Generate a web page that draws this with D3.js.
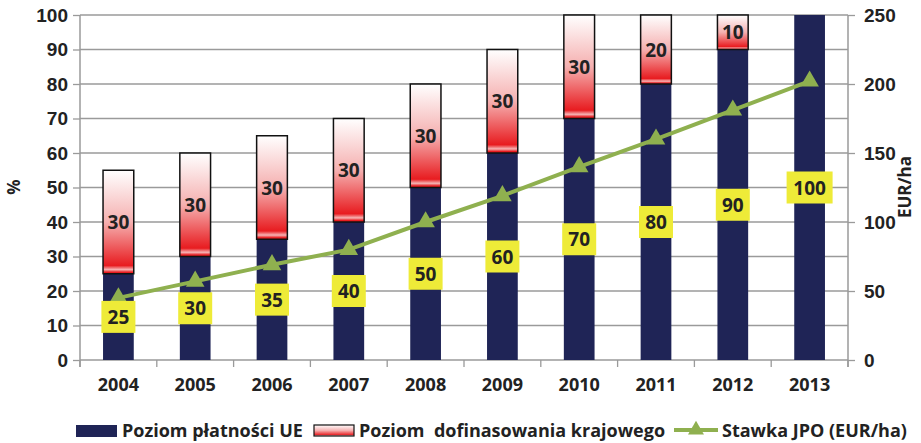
<!DOCTYPE html>
<html>
<head>
<meta charset="utf-8">
<script src="https://cdn.jsdelivr.net/npm/d3@7"></script>
<style>
  html, body { margin: 0; padding: 0; background: #fff; }
  svg { display: block; font-family: "Open Sans", Lato, sans-serif; font-weight: bold; }
</style>
</head>
<body>
<svg id="chart" width="921" height="443"></svg>
<script>
var years = ['2004','2005','2006','2007','2008','2009','2010','2011','2012','2013'];
var euLevel = [25, 30, 35, 40, 50, 60, 70, 80, 90, 100];
var nationalTopUp = [30, 30, 30, 30, 30, 30, 30, 20, 10, 0];
var jpoRate = [45, 57, 69, 80, 100, 119, 140, 160, 181, 202];
var leftTicks = [0, 10, 20, 30, 40, 50, 60, 70, 80, 90, 100];
var rightTicks = [0, 50, 100, 150, 200, 250];

(function () {

var navy = '#1f2456'
var green = '#8fb04f'
var yellow = '#eeeb38'
var grid = '#9a9a9a'
var ink = '#222'

var svg = d3.select('#chart')
var plotLeft = 80, plotRight = 848, plotTop = 15, plotBottom = 360

var x = d3.scaleBand().domain(years).range([plotLeft, plotRight]).paddingInner(0.6).paddingOuter(0.3)
var y = d3.scaleLinear().domain([0, 100]).range([plotBottom, plotTop])
var y2 = d3.scaleLinear().domain([0, 250]).range([plotBottom, plotTop])

// gradient for the national top-up bars (white top, red bottom, pale rim at the foot)
var defs = svg.append('defs')
var grad = defs.append('linearGradient').attr('id', 'redgrad')
    .attr('x1', 0).attr('y1', 0).attr('x2', 0).attr('y2', 1)
var stops = [[0, '#ffffff'], [0.5, '#f5b0b0'], [0.92, '#e81c20'], [0.96, '#f6b4b4'], [0.985, '#e81c20'], [1, '#e81c20']]
stops.forEach(function (s) {
    grad.append('stop').attr('offset', s[0]).attr('stop-color', s[1])
})

// grid
svg.append('g').selectAll('line').data(leftTicks.slice(1)).join('line')
    .attr('x1', plotLeft).attr('x2', plotRight)
    .attr('y1', function (d) { return y(d) }).attr('y2', function (d) { return y(d) })
    .attr('stroke', grid).attr('stroke-width', 1.3)

// left axis
var ax = svg.append('g').attr('transform', 'translate(' + plotLeft + ',0)')
    .call(d3.axisLeft(y).tickValues(leftTicks).tickSize(7).tickPadding(5))
ax.select('.domain').remove()
ax.selectAll('line').attr('stroke', grid).attr('stroke-width', 1.3)
ax.selectAll('text').attr('font-size', 19).attr('fill', ink).attr('font-family', null)
svg.append('line').attr('x1', plotLeft).attr('x2', plotLeft).attr('y1', plotTop).attr('y2', plotBottom + 7)
    .attr('stroke', grid).attr('stroke-width', 1.5)

// right axis
var ax2 = svg.append('g').attr('transform', 'translate(' + plotRight + ',0)')
    .call(d3.axisRight(y2).tickValues(rightTicks).tickSize(7).tickPadding(9))
ax2.select('.domain').remove()
ax2.selectAll('line').attr('stroke', grid).attr('stroke-width', 1.3)
ax2.selectAll('text').attr('font-size', 19).attr('fill', ink).attr('font-family', null)
svg.append('line').attr('x1', plotRight).attr('x2', plotRight).attr('y1', plotTop).attr('y2', plotBottom + 7)
    .attr('stroke', grid).attr('stroke-width', 1.5)

// bottom axis
svg.append('line').attr('x1', plotLeft).attr('x2', plotRight).attr('y1', plotBottom).attr('y2', plotBottom)
    .attr('stroke', grid).attr('stroke-width', 1.5)
svg.append('g').selectAll('line').data(d3.range(years.length + 1)).join('line')
    .attr('x1', function (i) { return plotLeft + i * x.step() })
    .attr('x2', function (i) { return plotLeft + i * x.step() })
    .attr('y1', plotBottom).attr('y2', plotBottom + 7)
    .attr('stroke', grid).attr('stroke-width', 1.3)
var xc = function (d) { return x(d) + x.bandwidth() / 2 }
svg.append('g').selectAll('text').data(years).join('text')
    .attr('x', xc).attr('y', 391).attr('text-anchor', 'middle')
    .attr('font-size', 18).attr('fill', ink).text(function (d) { return d })

// axis titles
svg.append('text').attr('transform', 'translate(20,187) rotate(-90)')
    .attr('text-anchor', 'middle').attr('font-size', 17).attr('fill', ink).text('%')
svg.append('text').attr('transform', 'translate(911,187) rotate(-90)')
    .attr('text-anchor', 'middle').attr('font-size', 17).attr('fill', ink).text('EUR/ha')

// bars
var bars = svg.append('g')
bars.selectAll('rect.eu').data(years).join('rect').attr('class', 'eu')
    .attr('x', function (d) { return x(d) })
    .attr('width', x.bandwidth())
    .attr('y', function (d, i) { return y(euLevel[i]) })
    .attr('height', function (d, i) { return plotBottom - y(euLevel[i]) })
    .attr('fill', navy)
var withTopUp = years.filter(function (d, i) { return nationalTopUp[i] > 0 })
bars.selectAll('rect.nat').data(withTopUp).join('rect')
    .attr('class', 'nat')
    .attr('x', function (d) { return x(d) })
    .attr('width', x.bandwidth())
    .attr('y', function (d) { var i = years.indexOf(d); return y(euLevel[i] + nationalTopUp[i]) })
    .attr('height', function (d) { var i = years.indexOf(d); return y(euLevel[i]) - y(euLevel[i] + nationalTopUp[i]) })
    .attr('fill', 'url(#redgrad)').attr('stroke', '#111').attr('stroke-width', 1.5)

// national labels
svg.append('g').selectAll('text').data(withTopUp).join('text')
    .attr('x', xc)
    .attr('y', function (d) { var i = years.indexOf(d); return y(euLevel[i] + nationalTopUp[i] / 2) + 7 })
    .attr('text-anchor', 'middle').attr('font-size', 19).attr('fill', ink)
    .text(function (d) { return nationalTopUp[years.indexOf(d)] })

// line
var line = d3.line().x(xc).y(function (d, i) { return y2(jpoRate[i]) })
svg.append('path').datum(years).attr('d', line)
    .attr('fill', 'none').attr('stroke', green).attr('stroke-width', 4)
var tri = d3.symbol().type(d3.symbolTriangle).size(150)
svg.append('g').selectAll('path').data(years).join('path')
    .attr('transform', function (d, i) { return 'translate(' + xc(d) + ',' + y2(jpoRate[i]) + ')' })
    .attr('d', tri).attr('fill', green)

// EU labels in yellow boxes
var lab = svg.append('g').selectAll('g').data(years).join('g')
    .attr('transform', function (d, i) { return 'translate(' + xc(d) + ',' + y(euLevel[i] / 2) + ')' })
lab.append('rect')
    .attr('x', function (d, i) { return euLevel[i] >= 100 ? -23 : -17 })
    .attr('width', function (d, i) { return euLevel[i] >= 100 ? 46 : 34 })
    .attr('y', -16).attr('height', 32).attr('fill', yellow)
lab.append('text').attr('text-anchor', 'middle').attr('y', 7)
    .attr('font-size', 19).attr('fill', ink)
    .text(function (d, i) { return euLevel[i] })

// legend
var lg = svg.append('g')
lg.append('rect').attr('x', 76).attr('y', 425).attr('width', 41).attr('height', 12).attr('fill', navy)
lg.append('text').attr('x', 122).attr('y', 437).attr('font-size', 18).attr('fill', ink).text('Poziom płatności UE')
lg.append('rect').attr('x', 314).attr('y', 425).attr('width', 40).attr('height', 11)
    .attr('fill', 'url(#redgrad)').attr('stroke', '#111').attr('stroke-width', 1.2)
lg.append('text').attr('x', 359).attr('y', 437).attr('font-size', 18).attr('fill', ink)
    .style('white-space', 'pre').text('Poziom  dofinasowania krajowego')
lg.append('line').attr('x1', 674).attr('x2', 718).attr('y1', 430).attr('y2', 430)
    .attr('stroke', green).attr('stroke-width', 4)
lg.append('path').attr('transform', 'translate(696,430)').attr('d', d3.symbol().type(d3.symbolTriangle).size(110)).attr('fill', green)
lg.append('text').attr('x', 722).attr('y', 437).attr('font-size', 18).attr('fill', ink).text('Stawka JPO (EUR/ha)')

})()
</script>
</body>
</html>
